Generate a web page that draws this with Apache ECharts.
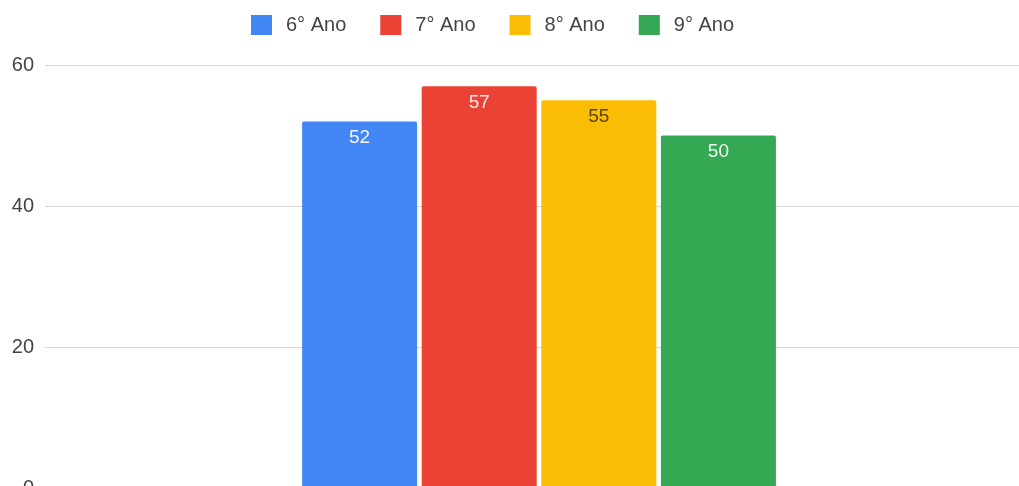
<!DOCTYPE html>
<html>
<head>
<meta charset="utf-8">
<script src="https://cdn.jsdelivr.net/npm/echarts@6/dist/echarts.min.js"></script>
<style>
  html, body { margin: 0; padding: 0; background: #fff; }
  #chart { width: 1019px; height: 486px; }
</style>
</head>
<body>
<div id="chart"></div>
<script>
// Students per school year
const categories = [''];
const seriesNames = ['6° Ano', '7° Ano', '8° Ano', '9° Ano'];
const values6 = [52];
const values7 = [57];
const values8 = [55];
const values9 = [50];
const yTicks = { min: 0, max: 60, interval: 20 };

const colors = ['#4285F4', '#EA4335', '#FBBC04', '#34A853'];
const labelColors = ['#f4f6fb', '#f6ece9', '#5a4514', '#eef6ef'];
const seriesValues = [values6, values7, values8, values9];

const chart = echarts.init(document.getElementById('chart'), null, { renderer: 'canvas' });

chart.setOption({
  animation: false,
  textStyle: { fontFamily: '"Liberation Sans", Arial, sans-serif' },
  legend: {
    top: 15,
    left: 251,
    padding: 0,
    itemWidth: 21,
    itemHeight: 20,
    itemGap: 34,
    icon: 'rect',
    itemStyle: { borderRadius: 2 },
    textStyle: { fontSize: 20, color: '#444', padding: [0, 0, 0, 9] },
    data: seriesNames
  },
  grid: { left: 45, width: 988, top: 65, height: 423, outerBoundsMode: 'none', containLabel: false },
  xAxis: {
    type: 'category',
    data: categories,
    axisLine: { show: false },
    axisTick: { show: false },
    axisLabel: { show: false }
  },
  yAxis: {
    type: 'value',
    min: yTicks.min,
    max: yTicks.max,
    interval: yTicks.interval,
    axisLine: { show: false },
    axisTick: { show: false },
    axisLabel: { fontSize: 20, color: '#444', margin: 11 },
    splitLine: { lineStyle: { color: '#d6d6d6', width: 1 } }
  },
  series: seriesNames.map((name, i) => ({
    name,
    type: 'bar',
    data: seriesValues[i],
    barWidth: 115,
    barGap: '4%',
    itemStyle: { color: colors[i], borderRadius: [2, 2, 0, 0] },
    label: {
      show: true,
      position: 'insideTop',
      distance: 7,
      fontSize: 19,
      color: labelColors[i]
    }
  }))
});
</script>
</body>
</html>
